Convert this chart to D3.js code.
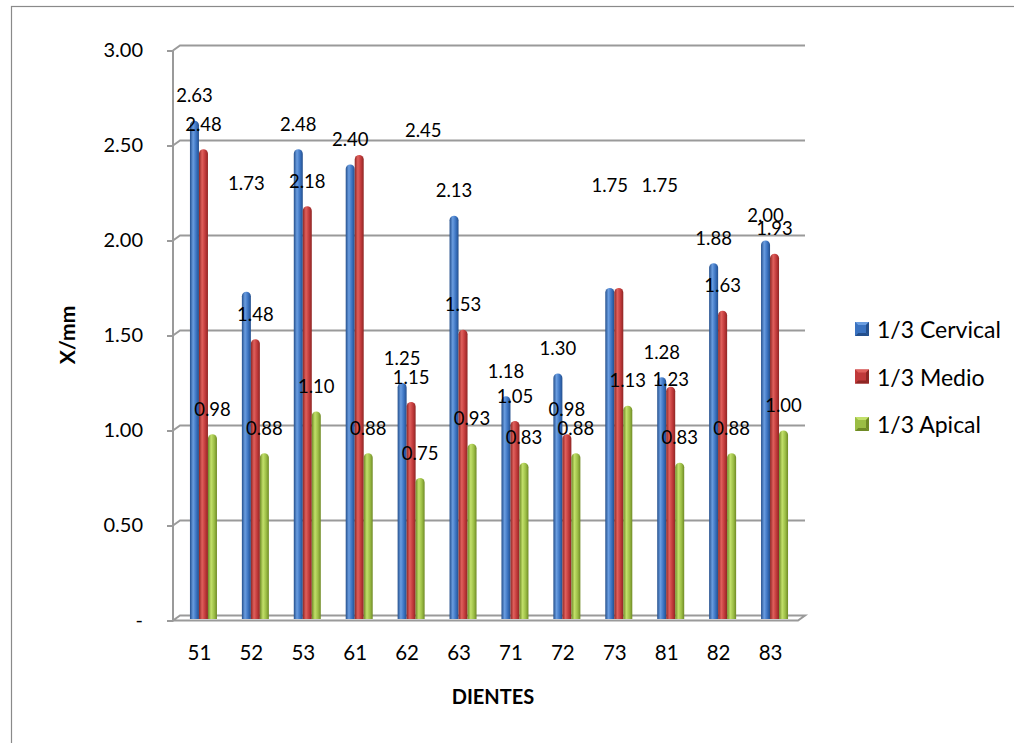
<!DOCTYPE html>
<html>
<head>
<meta charset="utf-8">
<script src="https://cdn.jsdelivr.net/npm/d3@7"></script>
<style>
  html, body { margin: 0; padding: 0; background: #fff; }
  svg { display: block; font-family: Lato, "Open Sans", sans-serif; }
</style>
</head>
<body>
<svg id="chart" width="1014" height="743"></svg>
<script>
// Teeth measured and the mean value (X, mm) for each third of the root
const dientes = ["51", "52", "53", "61", "62", "63", "71", "72", "73", "81", "82", "83"];
const series = ["1/3 Cervical", "1/3 Medio", "1/3 Apical"];
const cervical = [2.63, 1.73, 2.48, 2.40, 1.25, 2.13, 1.18, 1.30, 1.75, 1.28, 1.88, 2.00];
const medio    = [2.48, 1.48, 2.18, 2.45, 1.15, 1.53, 1.05, 0.98, 1.75, 1.23, 1.63, 1.93];
const apical   = [0.98, 0.88, 1.10, 0.88, 0.75, 0.93, 0.83, 0.88, 1.13, 0.83, 0.88, 1.00];
const yTicks = [0, 0.5, 1, 1.5, 2, 2.5, 3];

const values = [cervical, medio, apical];

// Look of each series: [dark edge, highlight, mid tone]
const palette = [
  ["#244f8c", "#6a9de0", "#3a72c0"],
  ["#8e2624", "#e0605c", "#c0393a"],
  ["#6f8a26", "#c2e06a", "#9bbd45"]
];

// Label nudges (px) for labels moved off the default spot above their bar
const labelNudge = {
  "0-1": [0, -83], "0-8": [0, -78],
  "1-3": [64, 0], "1-8": [41, -78], "1-9": [0, 18]
};

const svg = d3.select("#chart");
const W = 1014, H = 743;

// Outer chart frame
svg.append("rect").attr("x", 11.5).attr("y", 6.5).attr("width", W + 10).attr("height", H + 10)
  .attr("fill", "none").attr("stroke", "#8a8a8a").attr("stroke-width", 1.2);

// 3D wall geometry: back wall is shifted right/up by the depth
const depthX = 7, depthY = -5;
const left = 173, right = 796;

const y = d3.scaleLinear().domain([0, 3]).range([620.5, 50.5]);
const x = d3.scaleBand().domain(dientes).range([left, right]);
const inner = d3.scaleBand().domain(d3.range(series.length)).range([0, 27]);

const defs = svg.append("defs");
palette.forEach((c, i) => {
  const g = defs.append("linearGradient").attr("id", "bar" + i)
    .attr("x1", "0").attr("x2", "1").attr("y1", "0").attr("y2", "0");
  g.append("stop").attr("offset", "0%").attr("stop-color", c[0]);
  g.append("stop").attr("offset", "35%").attr("stop-color", c[1]);
  g.append("stop").attr("offset", "70%").attr("stop-color", c[2]);
  g.append("stop").attr("offset", "100%").attr("stop-color", c[0]);
});

const gridColor = "#9a9a9a";

// Gridlines on the back wall with the bent tick connector on the side wall
const grid = svg.append("g");
yTicks.filter(t => t > 0).forEach(t => {
  const yf = y(t);
  grid.append("path")
    .attr("d", `M${left},${yf} L${left + depthX},${yf + depthY} L${right + depthX + 2},${yf + depthY}`)
    .attr("fill", "none").attr("stroke", gridColor).attr("stroke-width", 2);
});

// Floor
const y0 = y(0);
grid.append("path")
  .attr("d", `M${left},${y0} L${left + depthX},${y0 + depthY} L${right + depthX + 2},${y0 + depthY} L${right + 2},${y0} Z`)
  .attr("fill", "none").attr("stroke", gridColor).attr("stroke-width", 2);

// Side wall edge
grid.append("line").attr("x1", left).attr("x2", left).attr("y1", y(3)).attr("y2", y0 + 1)
  .attr("stroke", gridColor).attr("stroke-width", 2);

// Y axis ticks and labels
const yAxis = d3.axisLeft(y).tickValues(yTicks).tickSize(6).tickPadding(24)
  .tickFormat(d => d === 0 ? "-" : d3.format(".2f")(d));
const ya = svg.append("g").attr("transform", `translate(${left},0)`).call(yAxis);
ya.select(".domain").remove();
ya.selectAll(".tick line").attr("stroke", gridColor).attr("stroke-width", 2);
ya.selectAll(".tick text").attr("font-size", 20).attr("fill", "#000").attr("font-family", "Lato, sans-serif");

// Category labels
const groupCenter = d => x(d) + x.bandwidth() / 2 + 4.5;
const xa = svg.append("g");
xa.selectAll("text").data(dientes).join("text")
  .attr("x", d => groupCenter(d) - 4)
  .attr("y", 660)
  .attr("text-anchor", "middle")
  .attr("font-size", 20.5)
  .text(d => d);

// Bars: cylinders with rounded tops
const bw = inner.bandwidth();
const barX = (c, s) => groupCenter(c) - 13.5 + inner(s);
const bars = svg.append("g");
values.forEach((vals, s) => {
  bars.selectAll(null).data(vals.map((v, i) => ({ v, c: dientes[i] }))).join("path")
    .attr("d", d => {
      const x0 = barX(d.c, s);
      const yt = y(d.v), yb = y0 - 1.5;
      const r = bw / 2;
      return `M${x0},${yb} L${x0},${yt + r} A${r},${r} 0 0 1 ${x0 + bw},${yt + r} L${x0 + bw},${yb} Z`;
    })
    .attr("fill", `url(#bar${s})`);
});

// Value labels, centred above each bar
const labels = svg.append("g");
values.forEach((vals, s) => {
  labels.selectAll(null).data(vals.map((v, i) => ({ v, i }))).join("text")
    .attr("x", d => {
      const n = labelNudge[s + "-" + d.i] || [0, 0];
      return barX(dientes[d.i], s) + bw / 2 + n[0];
    })
    .attr("y", d => {
      const n = labelNudge[s + "-" + d.i] || [0, 0];
      return y(d.v) - 25 + 6.5 + n[1];
    })
    .attr("text-anchor", "middle")
    .attr("font-size", 18.5)
    .attr("fill", "#000")
    .text(d => d3.format(".2f")(d.v));
});

// Axis titles
svg.append("text")
  .attr("transform", "translate(75,335) rotate(-90)")
  .attr("text-anchor", "middle")
  .attr("font-size", 21).attr("font-weight", "bold")
  .text("X/mm");
svg.append("text")
  .attr("x", 493).attr("y", 704)
  .attr("text-anchor", "middle")
  .attr("font-size", 20).attr("font-weight", "bold")
  .text("DIENTES");

// Legend with bevelled square markers
const legend = svg.append("g");
series.forEach((name, i) => {
  const ly = 330 + i * 47.5;
  const g = legend.append("g").attr("transform", `translate(855,${ly - 8})`);
  const s = 14, k = 3;
  const c = palette[i];
  g.append("rect").attr("width", s).attr("height", s).attr("fill", c[2]);
  g.append("path").attr("d", `M0,0 L${s},0 L${s - k},${k} L${k},${k} Z`).attr("fill", c[1]);
  g.append("path").attr("d", `M0,${s} L${s},${s} L${s - k},${s - k} L${k},${s - k} Z`).attr("fill", c[0]);
  g.append("path").attr("d", `M0,0 L${k},${k} L${k},${s - k} L0,${s} Z`).attr("fill", c[2]);
  g.append("path").attr("d", `M${s},0 L${s - k},${k} L${s - k},${s - k} L${s},${s} Z`).attr("fill", c[0]);
  legend.append("text").attr("x", 877).attr("y", ly + 8)
    .attr("font-size", 23).text(name);
});
</script>
</body>
</html>
